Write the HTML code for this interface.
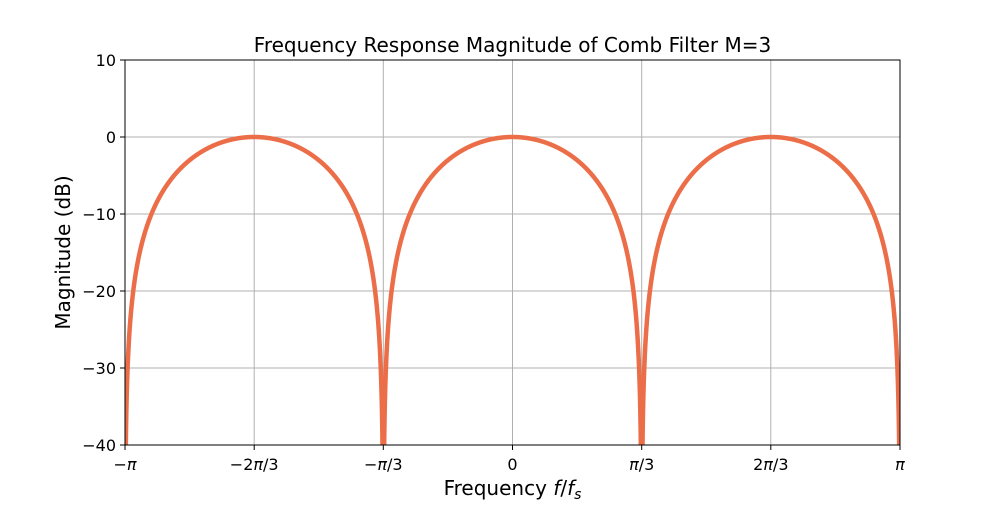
<!DOCTYPE html>
<html><head><meta charset="utf-8"><style>
body{margin:0;background:#fff;}
svg text{font-family:"DejaVu Sans","Liberation Sans",sans-serif;fill:#000;}
</style></head><body>
<svg id="s" width="1000" height="500" xmlns="http://www.w3.org/2000/svg">
<rect width="1000" height="500" fill="#fff"/>
<g stroke="#b0b0b0" stroke-width="1">
<line x1="125" x2="900" y1="137" y2="137"/>
<line x1="125" x2="900" y1="214" y2="214"/>
<line x1="125" x2="900" y1="291" y2="291"/>
<line x1="125" x2="900" y1="368" y2="368"/>
<line x1="254.2" x2="254.2" y1="60" y2="445"/>
<line x1="383.3" x2="383.3" y1="60" y2="445"/>
<line x1="512.5" x2="512.5" y1="60" y2="445"/>
<line x1="641.7" x2="641.7" y1="60" y2="445"/>
<line x1="770.8" x2="770.8" y1="60" y2="445"/>
</g>
<defs><clipPath id="c"><rect x="125" y="60" width="775" height="385"/></clipPath></defs>
<path id="curve" clip-path="url(#c)" fill="none" stroke="#ec6e49" stroke-width="4.5" stroke-linejoin="round"/>
<rect x="125" y="60" width="775" height="385" fill="none" stroke="#000" stroke-width="1"/>
<g stroke="#000" stroke-width="1">
<line x1="125" x2="125" y1="445" y2="450"/><line x1="254.2" x2="254.2" y1="445" y2="450"/>
<line x1="383.3" x2="383.3" y1="445" y2="450"/><line x1="512.5" x2="512.5" y1="445" y2="450"/>
<line x1="641.7" x2="641.7" y1="445" y2="450"/><line x1="770.8" x2="770.8" y1="445" y2="450"/>
<line x1="900" x2="900" y1="445" y2="450"/>
<line x1="120" x2="125" y1="60" y2="60"/><line x1="120" x2="125" y1="137" y2="137"/>
<line x1="120" x2="125" y1="214" y2="214"/><line x1="120" x2="125" y1="291" y2="291"/>
<line x1="120" x2="125" y1="368" y2="368"/><line x1="120" x2="125" y1="445" y2="445"/>
</g>
<g font-size="16" text-anchor="end">
<text x="116" y="66">10</text><text x="116" y="143">0</text>
<text x="116" y="220">−10</text><text x="116" y="297">−20</text>
<text x="116" y="374">−30</text><text x="116" y="451">−40</text>
</g>
<g font-size="16" text-anchor="middle">
<text x="125" y="470">−<tspan font-style="italic">π</tspan></text><text x="254.2" y="470">−2<tspan font-style="italic">π</tspan>/3</text>
<text x="383.3" y="470">−<tspan font-style="italic">π</tspan>/3</text><text x="512.5" y="470">0</text>
<text x="641.7" y="470"><tspan font-style="italic">π</tspan>/3</text><text x="770.8" y="470">2<tspan font-style="italic">π</tspan>/3</text>
<text x="900" y="470"><tspan font-style="italic">π</tspan></text>
</g>
<text x="512.5" y="52" font-size="20" text-anchor="middle">Frequency Response Magnitude of Comb Filter M=3</text>
<text x="512.5" y="495" font-size="20" text-anchor="middle">Frequency <tspan font-style="italic">f</tspan>/<tspan font-style="italic">f</tspan><tspan font-size="14" dy="4" font-style="italic">s</tspan></text>
<text transform="translate(70,252.5) rotate(-90)" font-size="20" text-anchor="middle">Magnitude (dB)</text>
</svg>
<script>
var d="",N=3000;
for(var i=0;i<=N;i++){var w=-Math.PI+2*Math.PI*i/N;var m=Math.abs(Math.cos(1.5*w));var db=m>0?20*Math.log10(m):-200;if(db<-45)db=-45;
var x=125+775*i/N,y=137-7.7*db;d+=(i?"L":"M")+x.toFixed(2)+","+y.toFixed(2);}
document.getElementById("curve").setAttribute("d",d);
</script>
</body></html>
